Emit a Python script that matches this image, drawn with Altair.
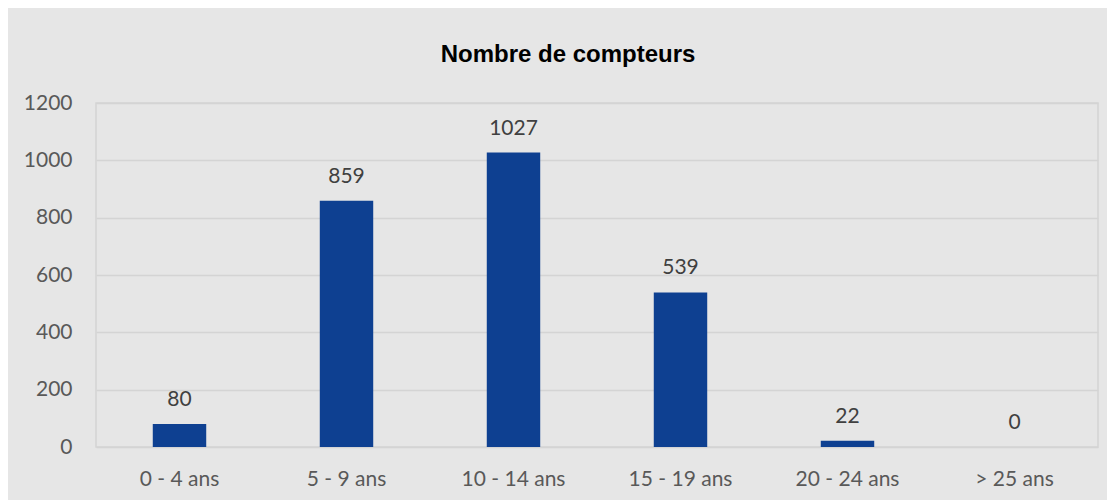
import altair as alt
import pandas as pd

categories = ["0 - 4 ans", "5 - 9 ans", "10 - 14 ans", "15 - 19 ans", "20 - 24 ans", "> 25 ans"]
values = [80, 859, 1027, 539, 22, 0]

df = pd.DataFrame({"cat": categories, "val": values})

FONT = "Lato"
FS = 21

x = alt.X("cat:N", sort=categories, title=None,
          scale=alt.Scale(paddingInner=0.68, paddingOuter=0.34),
          axis=alt.Axis(labelAngle=0, labelFont=FONT, labelFontSize=FS, labelColor="#595959",
                        labelPadding=21, ticks=False, domain=False, grid=False))
y = alt.Y("val:Q", title=None,
          scale=alt.Scale(domain=[0, 1200], nice=False),
          axis=alt.Axis(values=[0, 200, 400, 600, 800, 1000, 1200], format="d", labelFont=FONT,
                        labelFontSize=FS, labelColor="#595959", labelPadding=24, ticks=False,
                        domain=False, gridColor="#d4d4d4", gridWidth=1.5))

bars = alt.Chart(df).mark_bar(color="#0E4091").encode(x=x, y=y)
labels = alt.Chart(df).mark_text(font=FONT, fontSize=FS, color="#404040", baseline="middle", dy=-24).encode(
    x=alt.X("cat:N", sort=categories), y="val:Q", text="val:Q")

chart = (bars + labels).properties(
    width=1002, height=344,
    title=alt.TitleParams("Nombre de compteurs", font="Liberation Sans", fontSize=24, fontWeight="bold",
                          color="#000000", anchor="middle", dx=-29, offset=25),
    autosize=alt.AutoSizeParams(type="none"),
    padding={"left": 88, "top": 95, "right": 9, "bottom": 53},
    background="#e6e6e6",
).configure_view(stroke="#d4d4d4", strokeWidth=1.5)

chart.save("out.html", embed_options={"renderer": "svg", "actions": False})
